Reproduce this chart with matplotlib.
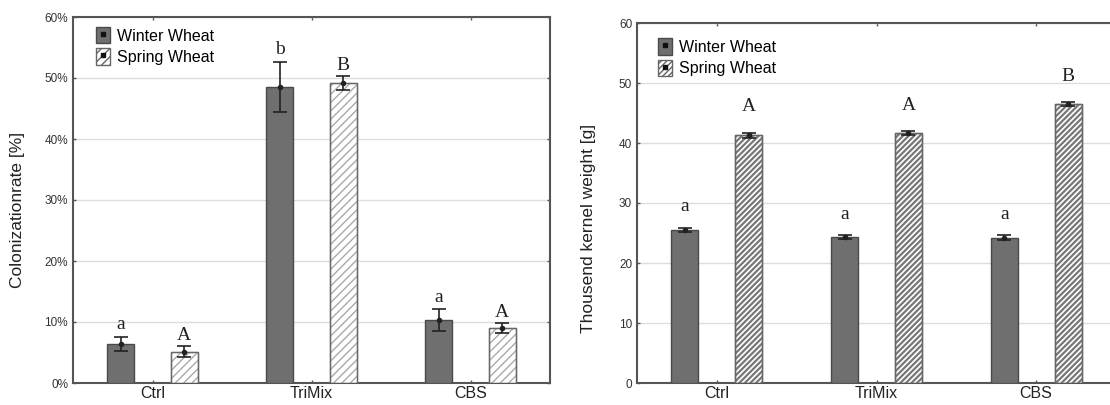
import matplotlib
matplotlib.use("Agg")
import matplotlib.pyplot as plt
import numpy as np
from matplotlib.patches import Patch
from matplotlib.lines import Line2D
from matplotlib.ticker import FuncFormatter

categories = ["Ctrl", "TriMix", "CBS"]
series = ["Winter Wheat", "Spring Wheat"]

# Left panel: colonization rate (%)
col_winter = [6.4, 48.5, 10.3]
col_winter_err = [1.2, 4.1, 1.8]
col_spring = [5.1, 49.2, 9.0]
col_spring_err = [0.9, 1.1, 0.8]
col_letters_winter = ["a", "b", "a"]
col_letters_spring = ["A", "B", "A"]

# Right panel: thousand kernel weight (g)
tkw_winter = [25.5, 24.3, 24.2]
tkw_winter_err = [0.4, 0.3, 0.4]
tkw_spring = [41.3, 41.7, 46.5]
tkw_spring_err = [0.4, 0.3, 0.3]
tkw_letters_winter = ["a", "a", "a"]
tkw_letters_spring = ["A", "A", "B"]

plt.rcParams['font.family'] = ['Liberation Sans', 'DejaVu Sans']

W, H = 1110, 405
fig = plt.figure(figsize=(W / 100, H / 100), dpi=100)

def ax_at(x0, y0, x1, y1):
    return fig.add_axes([x0 / W, 1 - y1 / H, (x1 - x0) / W, (y1 - y0) / H])

ax1 = ax_at(73, 17, 550, 383)
ax2 = ax_at(637, 23, 1116, 383)

spine_c = "#555555"
winter_c = "#6f6f6f"
winter_edge = "#4a4a4a"

def draw(ax, wv, we, sv, se, lw, ls, ymax, hatch, hatch_c, hlw, pad_w, pad_s, legend_pos):
    x = np.arange(len(categories))
    off, bw = 0.2, 0.17
    ax.bar(x - off, wv, bw, color=winter_c, edgecolor=winter_edge, linewidth=1, zorder=3)
    with plt.rc_context({'hatch.linewidth': hlw}):
        bars = ax.bar(x + off, sv, bw, color="white", edgecolor=hatch_c, hatch=hatch,
                      linewidth=1, zorder=3)
    for b in bars:
        if hasattr(b, "set_hatch_linewidth"):
            b.set_hatch_linewidth(hlw)
    ax.bar(x + off, sv, bw, color="none", edgecolor="#666666", linewidth=1, zorder=3.5)
    for xs, v, e in ((x - off, wv, we), (x + off, sv, se)):
        ax.errorbar(xs, v, yerr=e, fmt='o', color="#222222", ms=3, capsize=5,
                    elinewidth=1.2, capthick=1.2, zorder=4)
    for i in range(len(categories)):
        ax.text(x[i] - off, wv[i] + we[i] + pad_w, lw[i], ha="center", va="bottom",
                family=["Liberation Serif"], fontsize=14, color="#222222")
        ax.text(x[i] + off, sv[i] + se[i] + pad_s, ls[i], ha="center", va="bottom",
                family=["Liberation Serif"], fontsize=14, color="#222222")
    ax.set_xlim(-0.5, 2.5)
    ax.set_ylim(0, ymax)
    ax.set_xticks(x)
    ax.set_xticklabels(categories)
    ax.yaxis.grid(True, color="#dddddd", linewidth=1, zorder=0)
    ax.set_axisbelow(True)
    for s in ax.spines.values():
        s.set_color(spine_c)
        s.set_linewidth(1.5)
    ax.tick_params(axis="both", direction="in", length=2, width=1, color=spine_c,
                   top=True, right=True, labelsize=8.5, labelcolor="#333333")
    ax.tick_params(axis="x", labelsize=11.5, labelcolor="#222222", pad=2)
    h1 = (Patch(facecolor=winter_c, edgecolor=winter_edge),
          Line2D([], [], marker='s', color="#111111", ms=2.5, ls='none'))
    h2 = (Patch(facecolor="white", edgecolor="#666666", hatch=hatch),
          Line2D([], [], marker='s', color="#111111", ms=2.5, ls='none'))
    ax.legend([h1, h2], series, loc="upper left", bbox_to_anchor=legend_pos,
              frameon=False, fontsize=11.5, handlelength=0.9, handleheight=1.2,
              handletextpad=0.4, labelspacing=0.3, borderaxespad=0)

draw(ax1, col_winter, col_winter_err, col_spring, col_spring_err,
     col_letters_winter, col_letters_spring, 60, "////", "#aaaaaa", 1.0,
     0.6, 0.4, (0.035, 0.99))
ax1.yaxis.set_major_formatter(FuncFormatter(lambda v, p: f"{v:.0f}%"))
ax1.set_ylabel("Colonizationrate [%]", fontsize=12.5, color="#222222")
ax1.yaxis.set_label_coords(-0.10, 0.473)

draw(ax2, tkw_winter, tkw_winter_err, tkw_spring, tkw_spring_err,
     tkw_letters_winter, tkw_letters_spring, 60, "//////", "#777777", 1.6,
     2.1, 2.9, (0.03, 0.975))
ax2.set_ylabel("Thousend kernel weight [g]", fontsize=12.5, color="#222222")
ax2.yaxis.set_label_coords(-0.085, 0.43)

fig.savefig("out.png", dpi=100)
